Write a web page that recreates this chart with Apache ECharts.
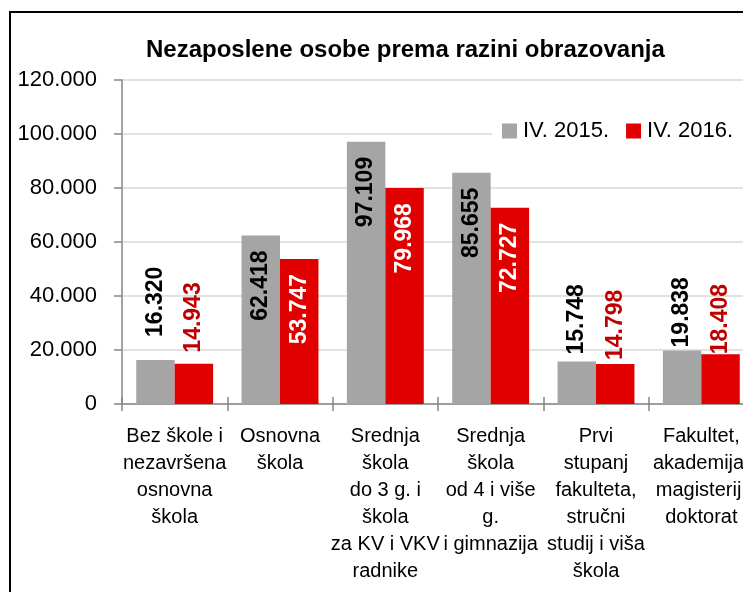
<!DOCTYPE html>
<html>
<head>
<meta charset="utf-8">
<script src="https://cdn.jsdelivr.net/npm/echarts@6/dist/echarts.min.js"></script>
<style>
    html, body { margin: 0; padding: 0; background: #fff; }
    #chart { width: 743px; height: 592px; }
</style>
</head>
<body>
<div id="chart"></div>
<script>
'use strict';

var categories = [
    'Bez škole i\nnezavršena\nosnovna\nškola',
    'Osnovna\nškola',
    'Srednja\nškola\ndo 3 g. i\nškola\nza KV i VKV\nradnike',
    'Srednja\nškola\nod 4 i više\ng.\ni gimnazija',
    'Prvi\nstupanj\nfakulteta,\nstručni\nstudij i viša\nškola',
    'Fakultet,\nakademija,\nmagisterij,\ndoktorat'
];
var values2015 = [16320, 62418, 97109, 85655, 15748, 19838];
var values2016 = [14943, 53747, 79968, 72727, 14798, 18408];
var yTicks = [0, 20000, 40000, 60000, 80000, 100000, 120000];

// gap between a short bar and its label that sits above it
var outsideGap2015 = [23, 0, 0, 0, 7, 3];
var outsideGap2016 = [11, 0, 0, 0, 4, 0];

var FONT = '"Liberation Sans", Arial, sans-serif';

function fmt(v) {
    return String(v).replace(/\B(?=(\d{3})+(?!\d))/g, '.');
}

function buildData(values, gaps, insideColor, outsideColor) {
    var out = [];
    for (var i = 0; i < values.length; i++) {
        var fits = values[i] > 25000;
        out.push({
            value: values[i],
            label: fits ? {
                position: 'insideTop',
                align: 'right',
                distance: 15,
                color: insideColor
            } : {
                position: 'top',
                align: 'left',
                distance: gaps[i],
                color: outsideColor
            }
        });
    }
    return out;
}

var labelBase = {
    show: true,
    rotate: 90,
    verticalAlign: 'middle',
    fontFamily: FONT,
    fontWeight: 'bold',
    fontSize: 23,
    formatter: function (p) { return fmt(p.value); }
};

var chart = echarts.init(document.getElementById('chart'), null, {renderer: 'canvas'});
chart.setOption({
    animation: false,
    backgroundColor: '#fff',
    title: {
        text: 'Nezaposlene osobe prema razini obrazovanja',
        left: 146,
        top: 38,
        padding: 0,
        textStyle: {
            fontFamily: FONT,
            fontWeight: 'bold',
            fontSize: 24,
            color: '#000'
        }
    },
    legend: {
        data: ['IV. 2015.', 'IV. 2016.'],
        orient: 'horizontal',
        left: 492,
        top: 116,
        width: 400,
        padding: [4, 10, 4, 10],
        itemWidth: 15,
        itemHeight: 15,
        itemGap: 17,
        icon: 'rect',
        backgroundColor: '#fff',
        textStyle: {
            fontFamily: FONT,
            fontSize: 22,
            color: '#000',
            padding: [0, 0, 0, 1]
        }
    },
    graphic: [{
        type: 'rect',
        shape: {x: 10, y: 12, width: 900, height: 700},
        style: {fill: null, stroke: '#000', lineWidth: 2},
        z: 10
    }],
    grid: {
        left: 122,
        top: 80,
        width: 632,
        height: 324,
        outerBoundsMode: 'none'
    },
    xAxis: [{
        type: 'category',
        data: categories,
        axisLine: {lineStyle: {color: '#868686', width: 1.5}},
        axisTick: {show: true, length: 7, lineStyle: {color: '#868686', width: 1.5}},
        axisLabel: {
            interval: 0,
            margin: 19,
            fontFamily: FONT,
            fontSize: 20,
            lineHeight: 27,
            color: '#000'
        }
    }, {
        type: 'category',
        data: categories,
        position: 'bottom',
        axisLine: {show: false},
        axisTick: {show: true, inside: true, length: 7, lineStyle: {color: '#868686', width: 1.5}},
        axisLabel: {show: false}
    }],
    yAxis: {
        type: 'value',
        min: yTicks[0],
        max: yTicks[yTicks.length - 1],
        interval: yTicks[1] - yTicks[0],
        axisLine: {show: true, lineStyle: {color: '#868686', width: 1.5}},
        axisTick: {show: true, length: 8, lineStyle: {color: '#868686', width: 1.5}},
        splitLine: {lineStyle: {color: '#d9d9d9', width: 1.5}},
        axisLabel: {
            margin: 25,
            fontFamily: FONT,
            fontSize: 22,
            color: '#000',
            formatter: fmt
        }
    },
    series: [{
        name: 'IV. 2015.',
        type: 'bar',
        barGap: 0,
        barCategoryGap: '27%',
        itemStyle: {color: '#a5a5a5'},
        label: labelBase,
        data: buildData(values2015, outsideGap2015, '#000', '#000')
    }, {
        name: 'IV. 2016.',
        type: 'bar',
        barGap: 0,
        barCategoryGap: '27%',
        itemStyle: {color: '#e00000'},
        label: labelBase,
        data: buildData(values2016, outsideGap2016, '#fff', '#c00000')
    }]
});
</script>
</body>
</html>
